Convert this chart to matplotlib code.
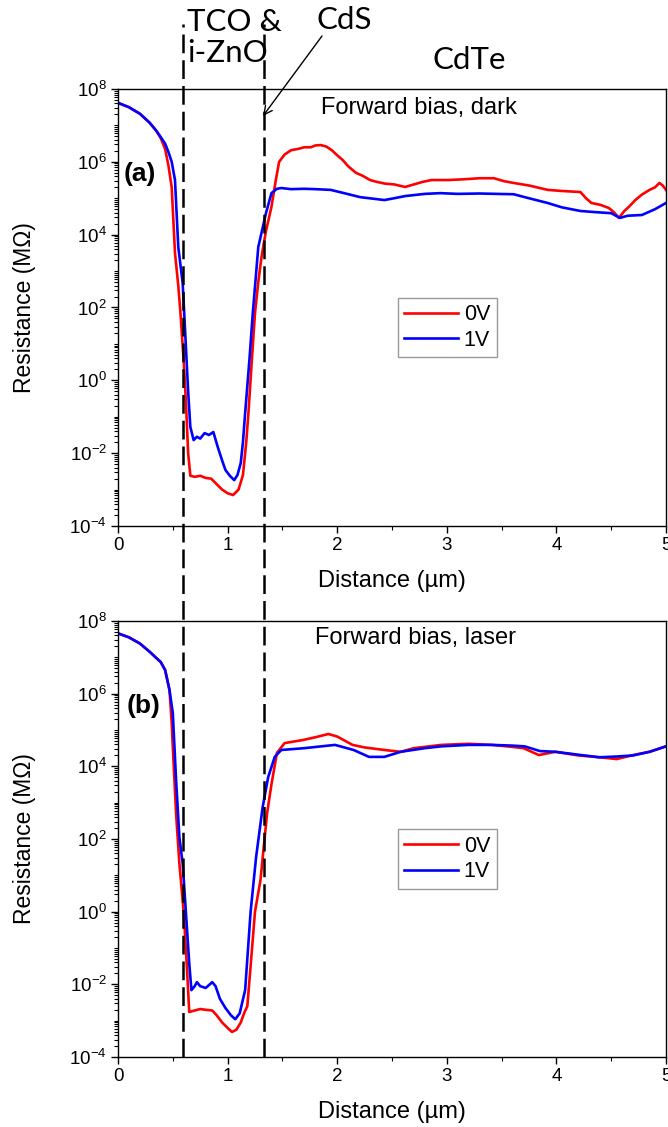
import matplotlib
matplotlib.use('Agg')
import matplotlib.pyplot as plt
import numpy as np
from matplotlib.ticker import LogLocator, FixedLocator, MultipleLocator, NullFormatter, LogFormatterSciNotation
from matplotlib.transforms import blended_transform_factory
from matplotlib.lines import Line2D
from matplotlib.patches import FancyArrowPatch

plt.rcParams['font.family'] = ['Liberation Sans', 'DejaVu Sans']
plt.rcParams['mathtext.default'] = 'regular'
plt.rcParams['axes.unicode_minus'] = False

# ---------------- data (distance in um, log10 of resistance in MOhm) ----------------
x_a_0v = [0.00, 0.10, 0.20, 0.29, 0.35, 0.39, 0.43, 0.46, 0.49, 0.52, 0.55, 0.57, 0.60, 0.62, 0.64, 0.66,
          0.70, 0.75, 0.80, 0.85, 0.90, 0.95, 1.00, 1.05, 1.10, 1.14, 1.17, 1.19, 1.22, 1.25, 1.28, 1.31,
          1.35, 1.40, 1.44, 1.47, 1.52, 1.58, 1.65, 1.70, 1.76, 1.80, 1.85, 1.90, 1.95, 2.00, 2.05, 2.10,
          2.17, 2.23, 2.30, 2.36, 2.44, 2.52, 2.62, 2.70, 2.78, 2.86, 3.01, 3.15, 3.30, 3.43, 3.52, 3.61,
          3.75, 3.92, 4.05, 4.22, 4.27, 4.32, 4.40, 4.48, 4.53, 4.57, 4.62, 4.66, 4.72, 4.78, 4.85, 4.90,
          4.94, 4.97, 5.00]
logr_a_0v = [7.62, 7.50, 7.32, 7.07, 6.85, 6.65, 6.35, 5.90, 5.30, 3.50, 2.60, 1.85, 0.50, -0.60, -2.00, -2.62,
             -2.65, -2.62, -2.68, -2.70, -2.85, -3.00, -3.10, -3.15, -3.00, -2.60, -1.70, -0.90, 0.50, 1.85, 2.70, 3.40,
             4.10, 4.76, 5.50, 6.00, 6.20, 6.32, 6.36, 6.40, 6.40, 6.45, 6.46, 6.42, 6.32, 6.18, 6.05, 5.88,
             5.70, 5.62, 5.50, 5.45, 5.40, 5.38, 5.31, 5.38, 5.45, 5.50, 5.50, 5.52, 5.55, 5.55, 5.47, 5.42,
             5.35, 5.23, 5.20, 5.17, 5.00, 4.87, 4.82, 4.73, 4.60, 4.46, 4.65, 4.76, 4.95, 5.10, 5.23, 5.30,
             5.42, 5.35, 5.23]

x_a_1v = [0.00, 0.10, 0.20, 0.29, 0.35, 0.39, 0.43, 0.46, 0.49, 0.52, 0.55, 0.59, 0.62, 0.64, 0.66, 0.69,
          0.72, 0.75, 0.79, 0.83, 0.87, 0.91, 0.95, 0.98, 1.02, 1.06, 1.09, 1.12, 1.14, 1.16, 1.20, 1.23,
          1.28, 1.35, 1.40, 1.45, 1.49, 1.58, 1.70, 1.80, 1.94, 2.05, 2.21, 2.35, 2.43, 2.52, 2.62, 2.80,
          2.94, 3.10, 3.30, 3.45, 3.61, 3.75, 3.92, 4.05, 4.22, 4.35, 4.50, 4.58, 4.65, 4.78, 4.90, 5.00]
logr_a_1v = [7.62, 7.50, 7.32, 7.07, 6.85, 6.68, 6.50, 6.27, 6.00, 5.50, 3.66, 2.67, 0.90, -0.30, -1.28, -1.64,
             -1.55, -1.60, -1.45, -1.50, -1.42, -1.83, -2.20, -2.46, -2.62, -2.74, -2.60, -2.27, -1.70, -0.90, 0.60, 1.85,
             3.66, 4.59, 5.14, 5.26, 5.28, 5.25, 5.26, 5.25, 5.23, 5.15, 5.03, 4.98, 4.95, 5.00, 5.06, 5.12,
             5.14, 5.12, 5.13, 5.12, 5.11, 5.00, 4.87, 4.75, 4.65, 4.62, 4.59, 4.46, 4.52, 4.54, 4.70, 4.87]

x_b_0v = [0.00, 0.10, 0.20, 0.29, 0.35, 0.39, 0.43, 0.47, 0.49, 0.50, 0.53, 0.56, 0.60, 0.63, 0.65, 0.70,
          0.75, 0.80, 0.86, 0.90, 0.95, 1.00, 1.04, 1.08, 1.12, 1.15, 1.18, 1.21, 1.25, 1.30, 1.36, 1.40,
          1.45, 1.52, 1.60, 1.68, 1.80, 1.92, 2.00, 2.14, 2.25, 2.43, 2.58, 2.70, 2.95, 3.20, 3.41, 3.55,
          3.70, 3.84, 3.99, 4.20, 4.39, 4.55, 4.70, 4.85, 5.00]
logr_b_0v = [7.66, 7.55, 7.38, 7.15, 6.98, 6.87, 6.65, 6.10, 5.20, 4.54, 2.70, 1.33, -0.04, -1.60, -2.76, -2.72,
             -2.68, -2.70, -2.72, -2.85, -3.05, -3.20, -3.31, -3.25, -3.05, -2.80, -2.60, -1.50, 0.00, 0.87, 2.70, 3.50,
             4.37, 4.64, 4.68, 4.72, 4.80, 4.89, 4.82, 4.59, 4.52, 4.45, 4.40, 4.50, 4.59, 4.62, 4.59, 4.55,
             4.50, 4.31, 4.40, 4.30, 4.25, 4.20, 4.31, 4.40, 4.55]

x_b_1v = [0.00, 0.10, 0.20, 0.29, 0.35, 0.39, 0.43, 0.47, 0.50, 0.53, 0.56, 0.59, 0.62, 0.65, 0.67, 0.70,
          0.72, 0.75, 0.80, 0.86, 0.89, 0.93, 0.98, 1.03, 1.07, 1.11, 1.16, 1.21, 1.26, 1.32, 1.37, 1.40,
          1.43, 1.49, 1.70, 1.98, 2.15, 2.29, 2.43, 2.58, 2.80, 2.95, 3.20, 3.41, 3.60, 3.71, 3.85, 3.99,
          4.20, 4.39, 4.55, 4.70, 4.85, 5.00]
logr_b_1v = [7.66, 7.55, 7.38, 7.15, 6.98, 6.87, 6.65, 6.10, 5.47, 3.62, 2.05, 1.33, -0.04, -1.42, -2.16, -2.05,
             -1.94, -2.05, -2.10, -1.94, -2.05, -2.40, -2.65, -2.85, -2.96, -2.80, -2.16, 0.00, 1.50, 2.88, 3.70, 3.98,
             4.26, 4.45, 4.50, 4.59, 4.45, 4.26, 4.26, 4.40, 4.50, 4.55, 4.59, 4.59, 4.57, 4.55, 4.42, 4.40,
             4.32, 4.25, 4.27, 4.30, 4.40, 4.55]

series_labels = ['0V', '1V']
panel_letters = ['(a)', '(b)']
panel_titles = ['Forward bias, dark', 'Forward bias, laser']
layer_boundaries = [0.59, 1.335]
layer_names = ['TCO &', 'i-ZnO', 'CdS', 'CdTe']
y_major_exponents = [-4, -2, 0, 2, 4, 6, 8]
x_label = 'Distance (\u00b5m)'
y_label = 'Resistance (M\u03a9)'

# ---------------- figure ----------------
W, H = 668, 1127
fig = plt.figure(figsize=(W / 100, H / 100), dpi=100)


def px_rect(l, t, r, b):
    return [l / W, 1 - b / H, (r - l) / W, (b - t) / H]


ax_a = fig.add_axes(px_rect(118, 89, 666, 526))
ax_b = fig.add_axes(px_rect(118, 621, 666, 1057))

panels = [
    (ax_a, (x_a_0v, logr_a_0v), (x_a_1v, logr_a_1v)),
    (ax_b, (x_b_0v, logr_b_0v), (x_b_1v, logr_b_1v)),
]
colors = ['#ff0000', '#0000ff']
title_pos = [(0.370, 0.956), (0.360, 0.961)]
letter_pos = [(0.010, 0.805), (0.016, 0.805)]

for i, (ax, s0, s1) in enumerate(panels):
    for (xs, ls_), c, lab in zip([s0, s1], colors, series_labels):
        ax.plot(xs, np.power(10.0, np.array(ls_)), color=c, lw=1.9, label=lab)
    ax.set_yscale('log')
    ax.set_xlim(0, 5)
    ax.set_ylim(1e-4, 1e8)
    ax.yaxis.set_major_locator(FixedLocator([10.0 ** e for e in y_major_exponents]))
    ax.yaxis.set_major_formatter(LogFormatterSciNotation())
    ax.yaxis.set_minor_locator(LogLocator(base=10, subs=np.arange(1, 10), numticks=100))
    ax.yaxis.set_minor_formatter(NullFormatter())
    ax.xaxis.set_major_locator(MultipleLocator(1))
    ax.xaxis.set_minor_locator(MultipleLocator(0.5))
    ax.tick_params(which='major', direction='out', length=5, width=1, labelsize=13.5, pad=3,
                   top=False, right=False)
    ax.tick_params(which='minor', direction='out', length=3, width=0.8, top=False, right=False)
    for sp in ax.spines.values():
        sp.set_linewidth(1.0)
    ax.set_xlabel(x_label, fontsize=17, va='center')
    ax.xaxis.set_label_coords(0.5, -0.127)
    ax.set_ylabel(y_label, fontsize=16.5, va='center')
    ax.yaxis.set_label_coords(-0.170, 0.5)
    ax.text(letter_pos[i][0], letter_pos[i][1], panel_letters[i], transform=ax.transAxes,
            fontsize=19, fontweight='bold', va='center', ha='left')
    ax.text(title_pos[i][0], title_pos[i][1], panel_titles[i], transform=ax.transAxes,
            fontsize=17, va='center', ha='left')
    leg = ax.legend(loc='upper left', bbox_to_anchor=(0.511, 0.522), fontsize=15.5, frameon=True,
                    fancybox=False, edgecolor='#808080', handlelength=2.5, handletextpad=0.25,
                    borderpad=0.3, labelspacing=0.2, borderaxespad=0)
    leg.get_frame().set_linewidth(1.0)

# dashed boundary lines spanning both panels
trans = blended_transform_factory(ax_b.transData, fig.transFigure)
y_bot = 1 - 1057 / H
y_top = 1 - 24 / H
for xb in layer_boundaries:
    fig.add_artist(Line2D([xb, xb], [y_bot, y_top], transform=trans, color='black', lw=1.8,
                          linestyle=(0, (7.5, 2.8)), zorder=5))

# layer labels
hdr_font = ['Lato', 'DejaVu Sans']
fig.text(187 / W, 1 - 22 / H, layer_names[0], fontsize=22.5, family=hdr_font, ha='left', va='center')
fig.text(187 / W, 1 - 53 / H, layer_names[1], fontsize=22.5, family=hdr_font, ha='left', va='center')
fig.text(317 / W, 1 - 20 / H, layer_names[2], fontsize=22.5, family=hdr_font, ha='left', va='center')
fig.text(432 / W, 1 - 60 / H, layer_names[3], fontsize=22.5, family=hdr_font, ha='left', va='center')

fig.add_artist(FancyArrowPatch(
    posA=(322 / W, 1 - 36 / H), posB=(263 / W, 1 - 116 / H), transform=fig.transFigure,
    arrowstyle='->,head_length=6,head_width=3', color='black', lw=1.0, shrinkA=0, shrinkB=0))

fig.savefig('out.png', dpi=100)
